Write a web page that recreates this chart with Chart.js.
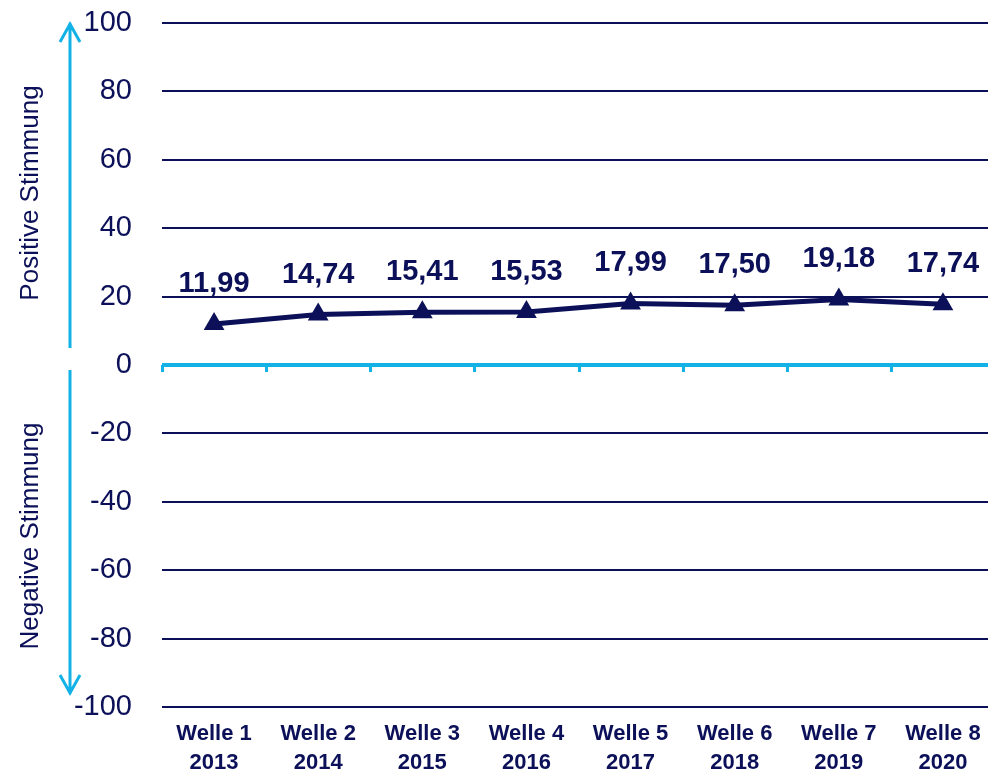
<!DOCTYPE html>
<html>
<head>
<meta charset="utf-8">
<script src="https://cdn.jsdelivr.net/npm/chart.js@4/dist/chart.umd.min.js"></script>
<style>
  html, body { margin: 0; padding: 0; background: #fff; overflow: hidden; }
  canvas { display: block; }
</style>
</head>
<body>
<canvas id="chart" width="1007" height="773"></canvas>
<script>
  // Stimmungsindex per survey wave.
  var waves = ["Welle 1", "Welle 2", "Welle 3", "Welle 4", "Welle 5", "Welle 6", "Welle 7", "Welle 8"];
  var years = ["2013", "2014", "2015", "2016", "2017", "2018", "2019", "2020"];
  var values = [11.99, 14.74, 15.41, 15.53, 17.99, 17.50, 19.18, 17.74];
  var yTicks = [-100, -80, -60, -40, -20, 0, 20, 40, 60, 80, 100];

  var NAVY = "#0b1058";
  var CYAN = "#12b2e6";
  var FONT = "Arial, 'Liberation Sans', sans-serif";

  // Wave + year on two lines under each category.
  var labels = waves.map(function (w, i) { return [w, years[i]]; });

  function fmt(v) {
    return v.toFixed(2).replace(".", ",");
  }

  function arrow(ctx, x, y0, y1) {
    // Line from y0 to y1 with an open chevron head at y1.
    var dir = y1 < y0 ? 1 : -1;
    ctx.beginPath();
    ctx.moveTo(x, y0);
    ctx.lineTo(x, y1);
    ctx.moveTo(x - 10, y1 + dir * 19);
    ctx.lineTo(x, y1 + dir * 1);
    ctx.lineTo(x + 10, y1 + dir * 19);
    ctx.stroke();
  }

  // Drop the label-overflow padding so the plot area sits exactly where we want it.
  function noPadding(s) {
    s.paddingLeft = 0;
    s.paddingRight = 0;
    s.paddingTop = 0;
    s.paddingBottom = 0;
  }

  var extras = {
    id: "extras",
    afterDatasetsDraw: function (chart) {
      var ctx = chart.ctx;
      var area = chart.chartArea;
      var xs = chart.scales.x;
      var ys = chart.scales.y;
      var y0 = ys.getPixelForValue(0);
      ctx.save();

      // Small ticks under the zero line at the category boundaries.
      ctx.strokeStyle = CYAN;
      ctx.lineWidth = 3;
      var step = (area.right - area.left) / waves.length;
      for (var i = 0; i <= waves.length; i++) {
        var bx = Math.round(area.left + i * step) + 0.5;
        ctx.beginPath();
        ctx.moveTo(bx, y0);
        ctx.lineTo(bx, y0 + 7);
        ctx.stroke();
      }

      // Value labels above each marker.
      ctx.fillStyle = NAVY;
      ctx.font = "bold 29px " + FONT;
      ctx.textAlign = "center";
      ctx.textBaseline = "middle";
      values.forEach(function (v, i) {
        var px = xs.getPixelForValue(i);
        var py = ys.getPixelForValue(v);
        ctx.fillText(fmt(v), px, py - 40);
      });

      // Positive / negative arrows on the far left.
      ctx.strokeStyle = CYAN;
      ctx.lineWidth = 3;
      ctx.lineCap = "butt";
      ctx.lineJoin = "miter";
      arrow(ctx, 70, 348, 23);
      arrow(ctx, 70, 370, 694);

      ctx.fillStyle = NAVY;
      ctx.font = "26px " + FONT;
      ctx.textAlign = "center";
      ctx.textBaseline = "middle";
      ctx.translate(31, 193);
      ctx.rotate(-Math.PI / 2);
      ctx.fillText("Positive Stimmung", 0, 0);
      ctx.rotate(Math.PI / 2);
      ctx.translate(0, 343);
      ctx.rotate(-Math.PI / 2);
      ctx.fillText("Negative Stimmung", 0, 0);
      ctx.restore();
    },
  };

  new Chart(document.getElementById("chart"), {
    type: "line",
    data: {
      labels: labels,
      datasets: [
        {
          data: values,
          borderColor: NAVY,
          backgroundColor: NAVY,
          borderWidth: 5,
          tension: 0,
          pointStyle: "triangle",
          pointRadius: 12,
          pointHoverRadius: 12,
          pointBorderWidth: 0,
        },
      ],
    },
    options: {
      responsive: false,
      animation: false,
      devicePixelRatio: 1,
      layout: { padding: { top: 23, left: 0, right: 0, bottom: 0 } },
      plugins: { legend: { display: false }, tooltip: { enabled: false } },
      scales: {
        x: {
          type: "category",
          offset: true,
          grid: { display: false, drawTicks: false },
          border: { display: false },
          afterFit: function (s) {
            s.height = 66;
            noPadding(s);
          },
          ticks: {
            color: NAVY,
            padding: 12,
            maxRotation: 0,
            autoSkip: false,
            font: { family: FONT, size: 22, weight: "bold", lineHeight: 1.32 },
          },
        },
        y: {
          min: -100,
          max: 100,
          afterFit: function (s) {
            s.width = 162;
            noPadding(s);
          },
          afterBuildTicks: function (s) {
            s.ticks = yTicks.map(function (v) { return { value: v }; });
          },
          border: { display: false },
          grid: {
            drawTicks: false,
            color: function (c) { return c.tick && c.tick.value === 0 ? CYAN : NAVY; },
            lineWidth: function (c) { return c.tick && c.tick.value === 0 ? 4 : 2; },
          },
          ticks: {
            color: NAVY,
            padding: 30,
            font: { family: FONT, size: 29 },
          },
        },
      },
    },
    plugins: [extras],
  });
</script>
</body>
</html>
